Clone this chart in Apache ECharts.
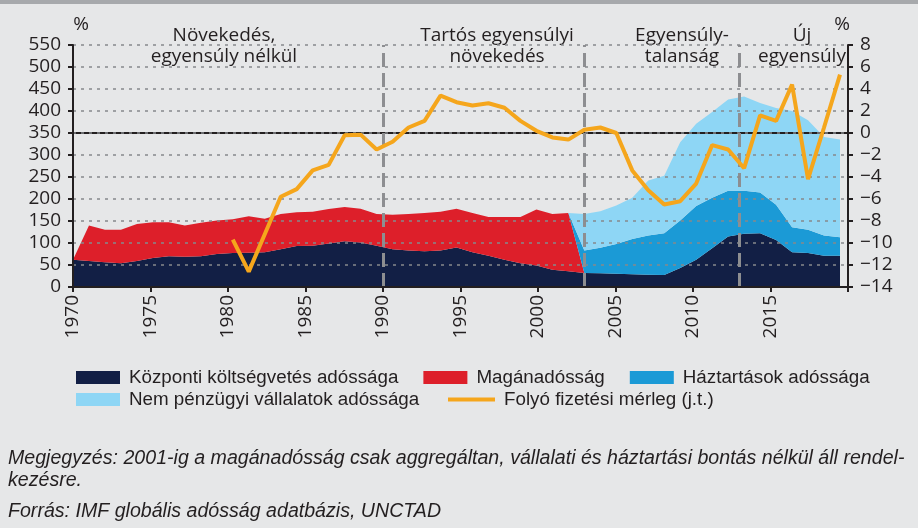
<!DOCTYPE html>
<html>
<head>
<meta charset="utf-8">
<script src="https://cdn.jsdelivr.net/npm/echarts@6/dist/echarts.min.js"></script>
<style>
  html, body { margin: 0; padding: 0; background: #e6e7e8; }
  #chart { width: 918px; height: 528px; }
</style>
</head>
<body>
<div id="chart"></div>
<script>
// yearly data 1970-2018, % of GDP
const years = Array.from({ length: 49 }, (_, i) => String(1970 + i));
const caYears = years.slice(10); // current account starts 1980

const centralDebt = [
  62, 59, 56, 54, 59, 66, 70, 69, 70, 75,
  77, 78, 79, 86, 93, 94, 99, 104, 101, 94,
  86, 83, 81, 83, 90, 79, 71, 62, 54, 49,
  39, 36, 32, 31, 30, 29, 28, 27, 43, 62,
  88, 115, 121, 122, 107, 79, 77, 71, 71
];
// aggregated private debt, only until 2001
const privateDebt = [
  0, 81, 74, 76, 84, 81, 77, 71, 76, 76,
  77, 83, 76, 80, 77, 77, 78, 78, 77, 72,
  78, 83, 87, 88, 88, 89, 88, 97, 105, 127,
  127, 132, 0, 0, 0, 0, 0, 0, 0, 0,
  0, 0, 0, 0, 0, 0, 0, 0, 0
];
// breakdown from 2002
const householdDebt = [
  0, 0, 0, 0, 0, 0, 0, 0, 0, 0,
  0, 0, 0, 0, 0, 0, 0, 0, 0, 0,
  0, 0, 0, 0, 0, 0, 0, 0, 0, 0,
  0, 0, 51, 58, 68, 80, 89, 95, 108, 122,
  115, 104, 98, 93, 80, 57, 53, 46, 42
];
const corporateDebt = [
  0, 0, 0, 0, 0, 0, 0, 0, 0, 0,
  0, 0, 0, 0, 0, 0, 0, 0, 0, 0,
  0, 0, 0, 0, 0, 0, 0, 0, 0, 0,
  0, 0, 83, 83, 87, 94, 125, 131, 178, 187,
  195, 207, 214, 203, 220, 264, 249, 224, 222
];
const currentAccount = [
  -9.7, -12.6, -9.2, -5.8, -5.1, -3.4, -2.9, -0.2, -0.15, -1.5,
  -0.8, 0.5, 1.1, 3.4, 2.8, 2.5, 2.7, 2.3, 1.1, 0.2,
  -0.4, -0.6, 0.3, 0.5, 0.0, -3.4, -5.2, -6.5, -6.2, -4.6,
  -1.1, -1.5, -3.2, 1.6, 1.1, 4.4, -4.2, 0.5, 5.3
];
const phaseBreaks = [1990, 2003, 2013];

const names = {
  central: 'Központi költségvetés adóssága',
  priv: 'Magánadósság',
  household: 'Háztartások adóssága',
  corporate: 'Nem pénzügyi vállalatok adóssága',
  ca: 'Folyó fizetési mérleg (j.t.)'
};

const colors = {
  central: '#121f45',
  priv: '#dd1f2a',
  household: '#1b9ad6',
  corporate: '#8ed6f5',
  ca: '#f5a61c'
};

const ink = '#231f20';
const tickFont = 'Open Sans';
const textFont = 'Liberation Sans';
const legendText = { fontSize: 18.8, fontFamily: textFont, color: ink, padding: [0, 0, 0, 4] };

function areaSeries(key, values) {
  return {
    name: names[key],
    type: 'line',
    xAxisIndex: 1,
    yAxisIndex: 2,
    stack: 'debt',
    data: values,
    symbol: 'none',
    color: colors[key],
    lineStyle: { width: 0 },
    areaStyle: { color: colors[key], opacity: 1 },
    zlevel: 0,
    z: 2
  };
}

const chart = echarts.init(document.getElementById('chart'));

chart.setOption({
  animation: false,
  backgroundColor: '#e6e7e8',
  grid: [
    // axes frame
    { left: 73, right: 70, top: 45, bottom: 241, containLabel: false, outerBoundsMode: 'none' },
    // data area: 1970..2018 points
    { left: 73, right: 78, top: 45, bottom: 241, containLabel: false, outerBoundsMode: 'none' }
  ],
  xAxis: [
    {
      type: 'value', gridIndex: 0, min: 1970, max: 2020, interval: 5, position: 'bottom', zlevel: 1,
      axisLine: { show: true, onZero: false, lineStyle: { color: ink, width: 2 } },
      axisTick: { show: true, length: 5, lineStyle: { color: ink, width: 2 } },
      axisLabel: {
        rotate: 90, margin: 8, fontSize: 19, fontFamily: tickFont, color: ink,
        formatter: v => (v === 2020 ? '' : String(v))
      },
      splitLine: { show: false }
    },
    { type: 'category', gridIndex: 1, data: years, boundaryGap: false, show: false }
  ],
  yAxis: [
    {
      // dotted gridlines sit on an upper layer, over the areas
      type: 'value', gridIndex: 0, min: 0, max: 550, interval: 50, position: 'left', zlevel: 1,
      axisLine: { show: true, onZero: false, lineStyle: { color: ink, width: 2 } },
      axisTick: { show: true, length: 5, lineStyle: { color: ink, width: 2 } },
      axisLabel: { margin: 12, fontSize: 19, fontFamily: tickFont, color: ink },
      splitLine: { show: true, lineStyle: { color: '#87898c', width: 1.5, type: [3, 5] } }
    },
    {
      type: 'value', gridIndex: 0, min: -14, max: 8, interval: 2, position: 'right', zlevel: 1,
      axisLine: { show: true, onZero: false, lineStyle: { color: ink, width: 2 } },
      axisTick: { show: true, length: 5, lineStyle: { color: ink, width: 2 } },
      axisLabel: {
        margin: 12, fontSize: 19, fontFamily: tickFont, color: ink,
        formatter: v => (v < 0 ? '\u2212' + Math.abs(v) : String(v))
      },
      splitLine: { show: false }
    },
    { type: 'value', gridIndex: 1, min: 0, max: 550, show: false },
    { type: 'value', gridIndex: 1, min: -14, max: 8, show: false }
  ],
  legend: [
    {
      left: 76, top: 368, padding: 0, itemWidth: 44, itemHeight: 13, itemGap: 25, selectedMode: false,
      textStyle: legendText,
      data: [
        { name: names.central, icon: 'rect' },
        { name: names.priv, icon: 'rect' },
        { name: names.household, icon: 'rect' }
      ]
    },
    {
      left: 76, top: 390, padding: 0, itemWidth: 44, itemHeight: 13, selectedMode: false,
      textStyle: legendText,
      data: [{ name: names.corporate, icon: 'rect' }]
    },
    {
      left: 448, top: 390, padding: 0, itemWidth: 47, itemHeight: 4, selectedMode: false,
      textStyle: legendText,
      data: [{ name: names.ca, icon: 'rect' }]
    }
  ],
  series: [
    areaSeries('central', centralDebt),
    areaSeries('priv', privateDebt),
    areaSeries('household', householdDebt),
    areaSeries('corporate', corporateDebt),
    {
      name: 'guides', type: 'line', xAxisIndex: 0, yAxisIndex: 1, data: [], zlevel: 2, z: 5,
      markLine: {
        silent: true, symbol: 'none', label: { show: false },
        data: [
          { yAxis: 0, lineStyle: { color: ink, width: 2, type: 'solid' } }
        ].concat(phaseBreaks.map(x => ({
          xAxis: x, lineStyle: { color: '#8d8e91', width: 3, type: [14, 6] }
        })))
      }
    },
    {
      name: names.ca, type: 'line', xAxisIndex: 1, yAxisIndex: 3,
      data: caYears.map((y, i) => [y, currentAccount[i]]),
      symbol: 'none', showSymbol: false, color: colors.ca,
      lineStyle: { width: 4, color: colors.ca }, zlevel: 2, z: 6
    }
  ],
  graphic: [
    { type: 'rect', left: 0, top: 0, shape: { width: 918, height: 4 }, style: { fill: '#a7a9ac' } },
    { type: 'text', x: 81, y: 25, style: { text: '%', font: '19px ' + tickFont, fill: ink, align: 'center', verticalAlign: 'middle' } },
    { type: 'text', x: 842, y: 25, style: { text: '%', font: '19px ' + tickFont, fill: ink, align: 'center', verticalAlign: 'middle' } },
    { type: 'text', x: 224, y: 46, style: { text: 'Növekedés,\negyensúly nélkül', font: '19px ' + tickFont, lineHeight: 21, fill: ink, align: 'center', verticalAlign: 'middle' } },
    { type: 'text', x: 497, y: 46, style: { text: 'Tartós egyensúlyi\nnövekedés', font: '19px ' + tickFont, lineHeight: 21, fill: ink, align: 'center', verticalAlign: 'middle' } },
    { type: 'text', x: 682, y: 46, style: { text: 'Egyensúly-\ntalanság', font: '19px ' + tickFont, lineHeight: 21, fill: ink, align: 'center', verticalAlign: 'middle' } },
    { type: 'text', x: 802, y: 46, style: { text: 'Új\negyensúly', font: '19px ' + tickFont, lineHeight: 21, fill: ink, align: 'center', verticalAlign: 'middle' } },
    { type: 'text', x: 8, y: 459, style: { text: 'Megjegyzés: 2001-ig a magánadósság csak aggregáltan, vállalati és háztartási bontás nélkül áll rendel-', font: 'italic 19.6px ' + textFont, fill: ink, verticalAlign: 'middle' } },
    { type: 'text', x: 8, y: 481, style: { text: 'kezésre.', font: 'italic 19.6px ' + textFont, fill: ink, verticalAlign: 'middle' } },
    { type: 'text', x: 8, y: 512, style: { text: 'Forrás: IMF globális adósság adatbázis, UNCTAD', font: 'italic 19.6px ' + textFont, fill: ink, verticalAlign: 'middle' } }
  ]
});
</script>
</body>
</html>
